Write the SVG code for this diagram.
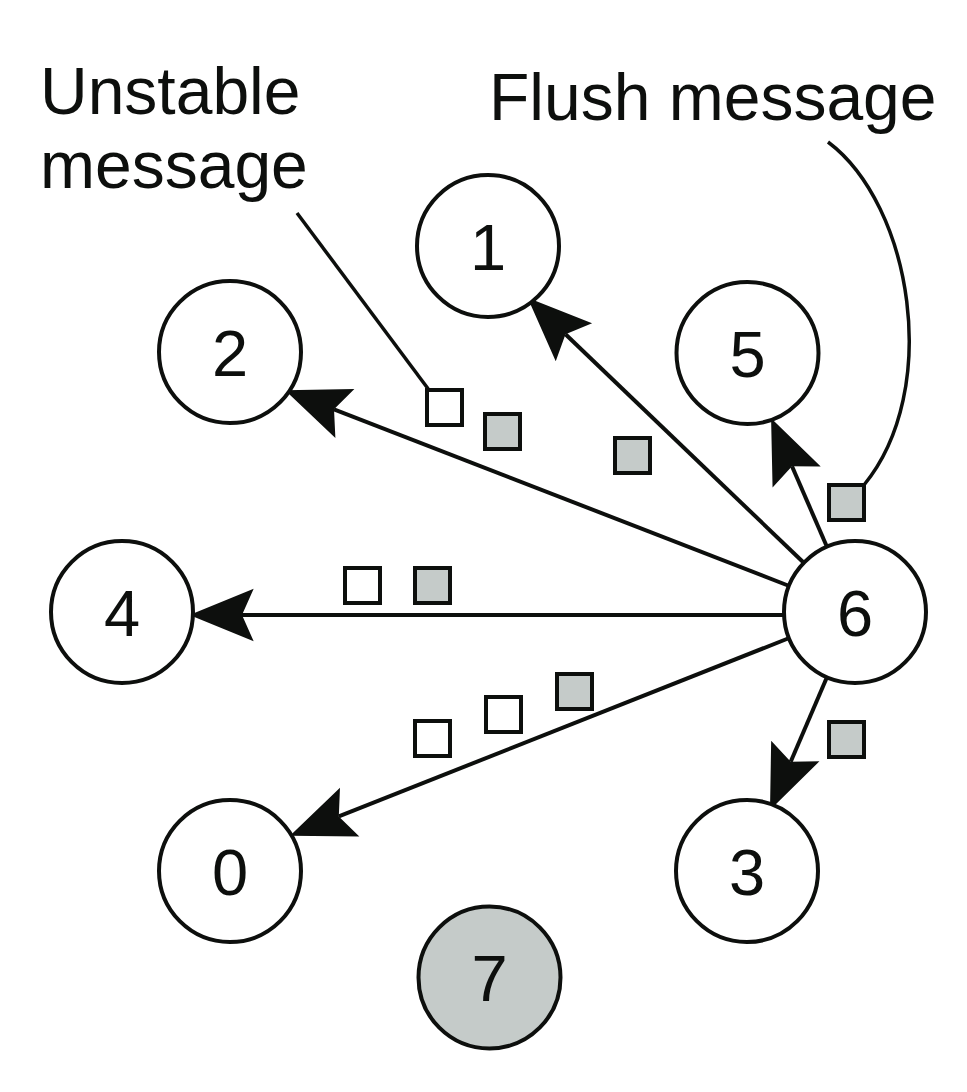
<svg xmlns="http://www.w3.org/2000/svg" width="967" height="1092" viewBox="0 0 967 1092">
  <style>
    .node circle { fill: #ffffff; stroke: #0d0f0d; stroke-width: 4; }
    .node.gray circle { fill: #c5cbc9; }
    .node text, .label { font-family: "Liberation Sans", Arial, sans-serif; font-size: 65px; fill: #0d0f0d; }
    .label { font-size: 66px; }
    .node text { text-anchor: middle; }
    .edge { stroke: #0d0f0d; stroke-width: 4; fill: none; marker-end: url(#arrow); }
    .leader { stroke: #0d0f0d; stroke-width: 3.5; fill: none; }
    .msg { stroke: #0d0f0d; stroke-width: 4; fill: #ffffff; }
    .msg.flush { fill: #c5cbc9; }
  </style>
  <defs>
    <marker id="arrow" markerUnits="userSpaceOnUse" markerWidth="70" markerHeight="60" viewBox="-12 -25 60 50" refX="0" refY="0" orient="auto">
      <path d="M45,0 L-10,-22.5 L0,0 L-10,22.5 Z" fill="#0d0f0d"/>
    </marker>
  </defs>
  <rect width="967" height="1092" fill="#ffffff"/>

  <g id="labels">
    <text class="label" x="40" y="114">Unstable</text>
    <text class="label" x="40" y="188">message</text>
    <text class="label" x="489" y="120">Flush message</text>
  </g>

  <g id="connectors">
    <line class="edge" x1="803" y1="562" x2="565.5" y2="334.2"/>
    <line class="edge" x1="826.6" y1="546" x2="792" y2="466.3"/>
    <line class="edge" x1="788" y1="585.5" x2="334" y2="409.3"/>
    <line class="edge" x1="783" y1="615" x2="242" y2="615"/>
    <line class="edge" x1="788" y1="638.5" x2="338.8" y2="816.4"/>
    <line class="edge" x1="826.6" y1="678" x2="790.7" y2="761.7"/>
    <line class="leader" x1="297" y1="213" x2="429" y2="390"/>
    <path class="leader" d="M828,142 C912,205 942,390 864,485"/>
  </g>

  <g id="messages">
    <rect class="msg" x="427" y="390" width="35" height="35"/>
    <rect class="msg flush" x="485" y="414" width="35" height="35"/>
    <rect class="msg flush" x="615" y="438" width="35" height="35"/>
    <rect class="msg flush" x="829" y="485" width="35" height="35"/>
    <rect class="msg" x="345" y="568" width="35" height="35"/>
    <rect class="msg flush" x="415" y="568" width="35" height="35"/>
    <rect class="msg" x="415" y="721" width="35" height="35"/>
    <rect class="msg" x="486" y="697" width="35" height="35"/>
    <rect class="msg flush" x="557" y="674" width="35" height="35"/>
    <rect class="msg flush" x="829" y="722" width="35" height="35"/>
  </g>

  <g id="node-1" class="node"><circle cx="488" cy="246" r="71"/><text x="488" y="270">1</text></g>
  <g id="node-2" class="node"><circle cx="230" cy="352" r="71"/><text x="230" y="376">2</text></g>
  <g id="node-5" class="node"><circle cx="747.5" cy="353" r="71"/><text x="747.5" y="377">5</text></g>
  <g id="node-4" class="node"><circle cx="122" cy="612" r="71"/><text x="122" y="636">4</text></g>
  <g id="node-6" class="node"><circle cx="855" cy="612" r="71"/><text x="855" y="636">6</text></g>
  <g id="node-0" class="node"><circle cx="230" cy="871" r="71"/><text x="230" y="895">0</text></g>
  <g id="node-3" class="node"><circle cx="747" cy="871" r="71"/><text x="747" y="895">3</text></g>
  <g id="node-7" class="node gray"><circle cx="489.5" cy="977.5" r="71"/><text x="489.5" y="1001">7</text></g>
</svg>
